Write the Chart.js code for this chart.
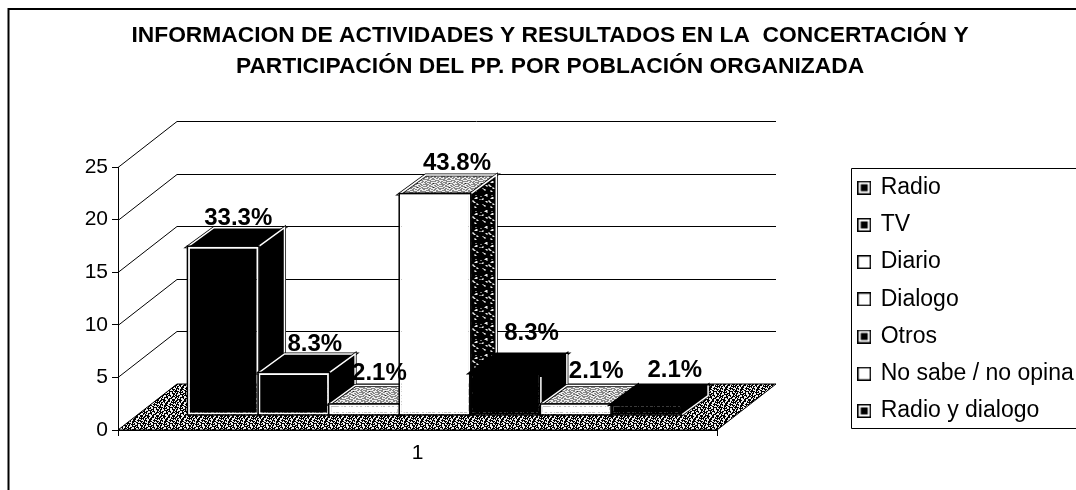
<!DOCTYPE html>
<html>
<head>
<meta charset="utf-8">
<title>Informacion de actividades</title>
<script src="https://cdn.jsdelivr.net/npm/chart.js@4"></script>
<style>
  html, body { margin: 0; padding: 0; background: #fff; }
  canvas { display: block; }
</style>
</head>
<body>
<canvas id="chart" width="1076" height="490"></canvas>
<script>
// Data
const categories = ['1'];
const seriesNames = ['Radio', 'TV', 'Diario', 'Dialogo', 'Otros', 'No sabe / no opina', 'Radio y dialogo'];
const seriesValues = [16, 4, 1, 21, 4, 1, 1];
const valueLabels = ['33.3%', '8.3%', '2.1%', '43.8%', '8.3%', '2.1%', '2.1%'];
const titleLines = [
  'INFORMACION DE ACTIVIDADES Y RESULTADOS EN LA  CONCERTACIÓN Y',
  'PARTICIPACIÓN DEL PP. POR POBLACIÓN ORGANIZADA'
];

// Look of the fake 3D box
const FONT = "'Liberation Sans', Arial, sans-serif";
const wallDepth = { x: 59, y: -46 };
const barShift = { x: 17.5, y: -15 };
const barDepth = { x: 26, y: -19 };
const faceKinds = ['dark', 'dark', 'light', 'light', 'dark', 'light', 'dark'];
const mergedFaces = [false, false, false, false, true, false, true];
const labelNudge = [[2, 0], [8, 0], [2, -2], [9, -2], [13, -11], [7, -4], [15, -5]];

// Stipple textures, one character per pixel
function makePattern(rows, on, off) {
  const tile = document.createElement('canvas');
  tile.width = rows[0].length;
  tile.height = rows.length;
  const c = tile.getContext('2d');
  c.fillStyle = off;
  c.fillRect(0, 0, tile.width, tile.height);
  c.fillStyle = on;
  rows.forEach((row, y) => {
    [...row].forEach((ch, x) => {
      if (ch === '#') c.fillRect(x, y, 1, 1);
    });
  });
  return document.createElement('canvas').getContext('2d').createPattern(tile, 'repeat');
}

const floorRows = [
  '##.###..##..###.',
  '#..##..###.#.#.#',
  '.##.#.##...#####',
  '.#...###..#..#.#',
  '###..##..####...',
  '#.#.####..#.###.',
  '#...##..##...#.#',
  '###.#.#..####.##',
  '.#.####..#..#..#',
  '##..#..###..###.',
  '#...####.#...##.',
  '#.##..#.###..#.#',
  '###...##..#.###.',
  '#.#.####...##..#',
  '.#..#..#.###...#',
  '.####...##..###.'
];
const lightRows = [
  '.#..#...#..#.#..',
  '...#..#....#...#',
  '#.....#.#.#...#.',
  '..#.#.....#.#...',
  '.#...#..#....#.#',
  '....#..#..#.#...',
  '#.#.....#...#..#',
  '...#..#.#.#...#.',
  '.#..#....#..#...',
  '..#...#.#...#.#.',
  '#...#.....#....#',
  '..#..#.#.#..#...',
  '.#....#....#..#.',
  '#..#.....#.#....',
  '...#.#.#....#.#.',
  '.#......#.#...#.'
];
const sideRows = [
  '################',
  '####..##########',
  '###...####.#####',
  '#####.#########.',
  '##########..####',
  '#.#######...####',
  '..############.#',
  '#######.########',
  '####..#..#######',
  '#####.##..######',
  '###########.####',
  '#.#########..###',
  '##..############',
  '###.#####.######',
  '#########..#####',
  '################'
];

const floorFill = makePattern(floorRows, '#000', '#eee');
const lightFill = makePattern(lightRows, '#222', '#eee');
const sideFill = makePattern(sideRows, '#000', '#eee');

const topFills = ['#000', '#000', lightFill, lightFill, '#000', lightFill, '#000'];
const sideFills = ['#000', '#000', '#fff', sideFill, '#000', '#fff', '#000'];

function poly(ctx, pts) {
  ctx.beginPath();
  pts.forEach((p, i) => (i ? ctx.lineTo(p[0], p[1]) : ctx.moveTo(p[0], p[1])));
  ctx.closePath();
}

// Legend marker: black square, white ring, filled middle when the series is dark
function legendIcon(kind) {
  const icon = document.createElement('canvas');
  icon.width = 14;
  icon.height = 14;
  const c = icon.getContext('2d');
  c.fillStyle = '#000';
  c.fillRect(0, 0, 14, 14);
  c.fillStyle = '#fff';
  c.fillRect(1.5, 1.5, 11, 11);
  if (kind === 'dark') {
    c.fillStyle = '#000';
    c.fillRect(3.5, 3.5, 7, 7);
  }
  return icon;
}

const box3d = {
  id: 'box3d',
  afterLayout(chart) {
    // Legend and title sit outside the plot, so place them by hand
    const legend = chart.legend;
    legend.left = 845;
    legend.right = 1076;
    legend.top = 162;
    legend.bottom = 490;
    legend.adjustHitBoxes();
    chart.titleBlock.left = 0;
    chart.titleBlock.right = 1100;
  },
  beforeDraw(chart) {
    const ctx = chart.ctx;
    ctx.save();
    ctx.strokeStyle = '#000';
    ctx.lineWidth = 2;
    ctx.beginPath();
    ctx.moveTo(8.5, 490);
    ctx.lineTo(8.5, 9);
    ctx.lineTo(1076, 9);
    ctx.stroke();
    // legend frame is open on the right, the scan cuts it off
    ctx.lineWidth = 1;
    ctx.beginPath();
    ctx.moveTo(1076, 168.5);
    ctx.lineTo(851.5, 168.5);
    ctx.lineTo(851.5, 428.5);
    ctx.lineTo(1076, 428.5);
    ctx.stroke();
    ctx.restore();
  },
  beforeDatasetsDraw(chart) {
    const ctx = chart.ctx;
    const y = chart.scales.y;
    const area = chart.chartArea;
    const metas = chart.getSortedVisibleDatasetMetas();
    ctx.save();

    // side wall and back wall lines
    ctx.strokeStyle = '#000';
    ctx.lineWidth = 1;
    y.ticks.forEach(t => {
      const py = Math.round(y.getPixelForValue(t.value)) + 0.5;
      ctx.beginPath();
      ctx.moveTo(area.left, py);
      ctx.lineTo(area.left + wallDepth.x, py + wallDepth.y);
      ctx.lineTo(area.right + wallDepth.x, py + wallDepth.y);
      ctx.stroke();
    });

    // floor
    poly(ctx, [
      [area.left, area.bottom],
      [area.right, area.bottom],
      [area.right + wallDepth.x, area.bottom + wallDepth.y],
      [area.left + wallDepth.x, area.bottom + wallDepth.y]
    ]);
    ctx.fillStyle = floorFill;
    ctx.fill();
    ctx.stroke();

    // bars left to right, each one covers the side of the one before it
    ctx.translate(barShift.x, barShift.y);
    metas.forEach(meta => {
      const i = meta.index;
      const bar = meta.data[0];
      const l = bar.x - bar.width / 2;
      const r = bar.x + bar.width / 2;
      const top = bar.y;
      const base = bar.base;
      const dx = barDepth.x;
      const dy = barDepth.y;
      const faces = [
        { fill: topFills[i], pts: [[l, top], [r, top], [r + dx, top + dy], [l + dx, top + dy]] },
        { fill: sideFills[i], pts: [[r, top], [r + dx, top + dy], [r + dx, base + dy], [r, base]] }
      ];
      faces.forEach(f => {
        poly(ctx, f.pts);
        ctx.fillStyle = f.fill;
        ctx.fill();
        ctx.strokeStyle = '#000';
        ctx.lineWidth = 3;
        ctx.stroke();
        if (!mergedFaces[i]) {
          ctx.strokeStyle = '#fff';
          ctx.lineWidth = 1.5;
          ctx.stroke();
        }
      });
      bar.draw(ctx);
      ctx.strokeStyle = '#000';
      ctx.lineWidth = 1.5;
      ctx.strokeRect(l - 0.5, top - 0.5, r - l + 1, base - top + 1);
      if (mergedFaces[i]) {
        // these two read as one black block with a thin white edge
        ctx.strokeStyle = '#fff';
        ctx.lineWidth = 1.5;
        ctx.beginPath();
        if (i < metas.length - 1) {
          ctx.moveTo(r, top + 4);
          ctx.lineTo(r, base);
        }
        ctx.moveTo(r, base);
        ctx.lineTo(r + dx, base + dy);
        ctx.lineTo(r + dx, top + dy);
        ctx.stroke();
      }
    });
    ctx.restore();

    // percent labels go over all the bars
    ctx.save();
    ctx.fillStyle = '#000';
    ctx.font = 'bold 24px ' + FONT;
    ctx.textAlign = 'center';
    ctx.textBaseline = 'alphabetic';
    metas.forEach(meta => {
      const i = meta.index;
      const bar = meta.data[0];
      const px = bar.x + barShift.x + barDepth.x / 2 + labelNudge[i][0];
      const py = bar.y + barShift.y + barDepth.y - 3 + labelNudge[i][1];
      ctx.fillText(valueLabels[i], px, py);
    });
    ctx.restore();

    return false; // native dataset pass would paint the bars again, in the wrong order
  }
};

new Chart(document.getElementById('chart'), {
  type: 'bar',
  data: {
    labels: categories,
    datasets: seriesNames.map((name, i) => ({
      label: name,
      data: [seriesValues[i]],
      backgroundColor: faceKinds[i] === 'dark' ? '#000' : '#fff',
      borderColor: mergedFaces[i] ? '#000' : '#fff',
      borderWidth: 2,
      borderSkipped: false,
      categoryPercentage: 0.825,
      barPercentage: 1
    }))
  },
  options: {
    responsive: false,
    animation: false,
    layout: { padding: { left: 0, top: 0, right: 358, bottom: 0 } },
    plugins: {
      tooltip: { enabled: false },
      title: {
        display: true,
        text: titleLines,
        color: '#000',
        font: { family: FONT, size: 22.8, weight: 'bold', lineHeight: 1.36 },
        padding: { top: 20, bottom: 85 }
      },
      legend: {
        position: 'right',
        align: 'start',
        maxWidth: 1,
        labels: {
          color: '#000',
          font: { family: FONT, size: 23 },
          boxWidth: 10,
          boxHeight: 10,
          padding: 14.2,
          usePointStyle: true,
          generateLabels(chart) {
            return chart.data.datasets.map((ds, i) => ({
              text: ds.label,
              fontColor: '#000',
              pointStyle: legendIcon(faceKinds[i]),
              datasetIndex: i,
              hidden: false
            }));
          }
        }
      }
    },
    scales: {
      x: {
        afterFit(scale) { scale.height = 60; },
        border: { color: '#000' },
        grid: { drawOnChartArea: false, color: '#000', tickLength: 6 },
        ticks: { color: '#000', font: { family: FONT, size: 21 }, padding: 5 }
      },
      y: {
        min: 0,
        max: 25,
        afterFit(scale) { scale.width = 118; },
        border: { color: '#000' },
        grid: { drawOnChartArea: false, color: '#000', tickLength: 6 },
        ticks: { stepSize: 5, color: '#000', font: { family: FONT, size: 21 }, padding: 4 }
      }
    }
  },
  plugins: [box3d]
});
</script>
</body>
</html>
